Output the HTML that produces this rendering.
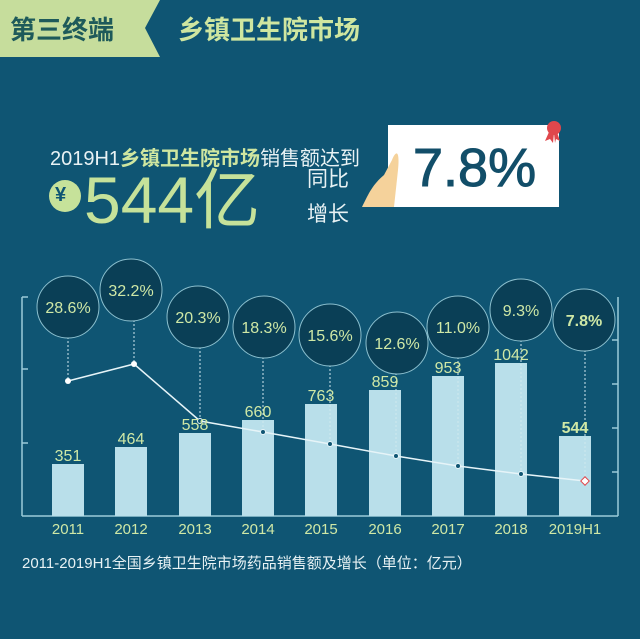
<!DOCTYPE html>
<html><head><meta charset="utf-8"><style>
body{margin:0;width:640px;height:639px;background:#0f5573;overflow:hidden;position:relative;font-family:"Liberation Sans","Noto Sans CJK SC",sans-serif}
.a{position:absolute;white-space:nowrap}
</style></head><body>
<svg class="a" style="left:0;top:0" width="640" height="639">
<polygon points="0,0 160,0 145,28 160,57 0,57" fill="#c6dd9c"/>
<rect x="388" y="125" width="171" height="82" fill="#fff"/>
<circle cx="554" cy="128" r="7" fill="#e0474c"/>
<polygon points="549,132 545,141 550,139 553,143 554,133" fill="#e0474c"/>
<polygon points="557,132 560,141 556,139 555,143 554,133" fill="#e0474c"/>
<path d="M392,160 C396,150 400,150 398,170 L394,207 L362,207 C368,195 372,185 384,175 Z" fill="#f5d29b"/>
<circle cx="65" cy="196" r="16" fill="#c6e29a"/>
<g stroke="#9ccbd9" stroke-width="1.5" fill="none">
<line x1="22" y1="297" x2="22" y2="516"/><line x1="618" y1="297" x2="618" y2="516"/>
<line x1="22" y1="516" x2="618" y2="516"/>
<line x1="22" y1="297" x2="28" y2="297"/><line x1="22" y1="369" x2="28" y2="369"/><line x1="22" y1="443" x2="28" y2="443"/>
<line x1="612" y1="340" x2="618" y2="340"/><line x1="612" y1="384" x2="618" y2="384"/><line x1="612" y1="428" x2="618" y2="428"/><line x1="612" y1="472" x2="618" y2="472"/>
</g>
<g fill="#b9dfea">
<rect x="52" y="464" width="32" height="52"/><rect x="115" y="447" width="32" height="69"/>
<rect x="179" y="433" width="32" height="83"/><rect x="242" y="420" width="32" height="96"/>
<rect x="305" y="404" width="32" height="112"/><rect x="369" y="390" width="32" height="126"/>
<rect x="432" y="376" width="32" height="140"/><rect x="495" y="363" width="32" height="153"/>
<rect x="559" y="436" width="32" height="80"/>
</g>
<g stroke="#d0e8ef" stroke-width="1" stroke-dasharray="2,2">
<line x1="68" y1="337" x2="68" y2="381"/><line x1="134" y1="320" x2="134" y2="364"/>
<line x1="200" y1="347" x2="200" y2="421"/><line x1="263" y1="357" x2="263" y2="432"/>
<line x1="330" y1="365" x2="330" y2="444"/><line x1="396" y1="373" x2="396" y2="456"/>
<line x1="458" y1="357" x2="458" y2="466"/><line x1="521" y1="340" x2="521" y2="474"/>
<line x1="585" y1="350" x2="585" y2="481"/>
</g>
<polyline points="68,381 134,364 200,421 263,432 330,444 396,456 458,466 521,474 585,481" fill="none" stroke="#e6f4f8" stroke-width="1.5"/>
<g fill="#fff"><circle cx="68" cy="381" r="3"/><circle cx="134" cy="364" r="3"/></g>
<g fill="#0f5573" stroke="#e6f4f8"><circle cx="200" cy="421" r="2.5"/><circle cx="263" cy="432" r="2.5"/><circle cx="330" cy="444" r="2.5"/><circle cx="396" cy="456" r="2.5"/><circle cx="458" cy="466" r="2.5"/><circle cx="521" cy="474" r="2.5"/></g>
<rect x="582" y="478" width="6" height="6" transform="rotate(45 585 481)" fill="#fff" stroke="#e0474c"/>
<g fill="#0a3f56" stroke="#8cc0cf" stroke-width="1">
<circle cx="68" cy="307" r="31"/><circle cx="131" cy="290" r="31"/><circle cx="198" cy="317" r="31"/>
<circle cx="264" cy="327" r="31"/><circle cx="330" cy="335" r="31"/><circle cx="397" cy="343" r="31"/>
<circle cx="458" cy="327" r="31"/><circle cx="521" cy="310" r="31"/><circle cx="584" cy="320" r="31"/>
</g>
<g font-family="Liberation Sans,sans-serif" font-size="16" fill="#cfe8a6" text-anchor="middle">
<text x="68" y="313">28.6%</text><text x="131" y="296">32.2%</text><text x="198" y="323">20.3%</text>
<text x="264" y="333">18.3%</text><text x="330" y="341">15.6%</text><text x="397" y="349">12.6%</text>
<text x="458" y="333">11.0%</text><text x="521" y="316">9.3%</text><text x="584" y="326" font-weight="bold">7.8%</text>
</g>
<g font-family="Liberation Sans,sans-serif" font-size="16" fill="#cfe8a6" text-anchor="middle">
<text x="68" y="461">351</text><text x="131" y="444">464</text><text x="195" y="430">558</text>
<text x="258" y="417">660</text><text x="321" y="401">763</text><text x="385" y="387">859</text>
<text x="448" y="373">953</text><text x="511" y="360">1042</text><text x="575" y="433" font-weight="bold">544</text>
</g>
<g font-family="Liberation Sans,sans-serif" font-size="15" fill="#cfe8a6" text-anchor="middle">
<text x="68" y="534">2011</text><text x="131" y="534">2012</text><text x="195" y="534">2013</text>
<text x="258" y="534">2014</text><text x="321" y="534">2015</text><text x="385" y="534">2016</text>
<text x="448" y="534">2017</text><text x="511" y="534">2018</text><text x="575" y="534">2019H1</text>
</g>
</svg>
<div class="a" style="left:10px;top:10px;font-size:26px;font-weight:bold;color:#1e5a5a">第三终端</div>
<div class="a" style="left:178px;top:10px;font-size:26px;font-weight:bold;color:#cfe6a0">乡镇卫生院市场</div>
<div class="a" style="left:50px;top:142px;font-size:20px;color:#e8f2f4">2019H1<b style="color:#cfe6a0">乡镇卫生院市场</b>销售额达到</div>
<div class="a" style="left:55px;top:184px;font-size:20px;color:#0f5573;font-weight:bold">¥</div>
<div class="a" style="left:84px;top:160px;font-size:66px;color:#c6e29a;line-height:80px">544亿</div>
<div class="a" style="left:307px;top:162px;font-size:21px;color:#e8f2f4;line-height:35px">同比<br>增长</div>
<div class="a" style="left:413px;top:138px;font-size:54px;color:#124e69;line-height:60px;-webkit-text-stroke:1px #124e69">7.8%</div>
<div class="a" style="left:22px;top:552px;font-size:15px;color:#e8f2f4">2011-2019H1全国乡镇卫生院市场药品销售额及增长（单位：亿元）</div>
</body></html>
